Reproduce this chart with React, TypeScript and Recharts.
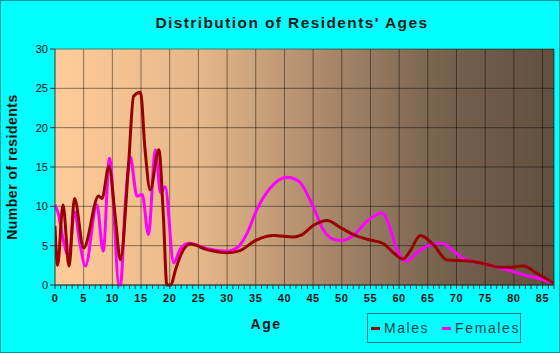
import { LineChart, Line, XAxis, YAxis, CartesianGrid, ReferenceLine } from "recharts"

const maleAges = [
  0, 0.45, 1.4, 2.45, 3.4, 5, 7.6, 8.2, 9.4, 10.5, 11.4, 12.8, 13.7, 14.9, 15.7, 16.6, 18.1, 18.9, 19.5, 20.2,
  21, 22.1, 23.6, 26.5, 30, 32, 35.2, 38.1, 41.6, 42.8, 45.1, 47.4, 50, 52.3, 54.8, 57.3, 59, 60.7, 61.9, 63.7,
  66, 68.3, 70.6, 72.9, 75.3, 77.6, 79.9, 81.7, 84, 87,
]
const maleCounts = [
  7.5, 2.5, 10.2, 2.4, 11, 4.7, 11.3, 11, 15.1, 8.7, 3.2, 15, 24, 24.5, 17.2, 12.1, 17.2, 8.7, 0, 0,
  1.9, 4.1, 5.2, 4.5, 4.1, 4.3, 5.75, 6.3, 6.1, 6.3, 7.6, 8.2, 7.2, 6.3, 5.75, 5.25, 4.1, 3.3, 4.3, 6.3,
  5.1, 3.2, 3.1, 3, 2.6, 2.25, 2.3, 2.4, 1.5, 0.2,
]

const femaleAges = [
  0, 0.6, 1.5, 2.4, 3.4, 4.3, 5.3, 7.3, 8.4, 9.5, 11.2, 11.4, 12.3, 13.1, 14.3, 15.2, 16.3, 17.5, 18.4, 19.2,
  20.7, 21.8, 23.3, 26.5, 30, 31.7, 33.5, 35.2, 37.5, 40.4, 42.5, 45.1, 46.8, 48.6, 50, 52, 54.4, 57, 58, 59.6,
  61.2, 63.1, 65.4, 67.4, 69.5, 71.2, 72.9, 75.3, 77.6, 79.9, 82.2, 84.6, 87,
]
const femaleCounts = [
  10.2, 9, 5.5, 3.6, 9.3, 5.5, 2.4, 10.2, 4.3, 16.1, 0, 0, 10.8, 16.3, 11.3, 11.5, 6.4, 17.2, 11.7, 12.5,
  2.8, 4.5, 5.3, 4.6, 4.3, 4.7, 6.6, 9.6, 12.3, 13.7, 13.2, 9.8, 7, 5.8, 5.65, 6.3, 8.1, 9.2, 8.1, 4.5,
  3, 4.1, 5.1, 5.3, 4.3, 3.4, 3, 2.6, 2.15, 1.7, 1.2, 0.8, 0.2,
]

const ageLabels = [0, 5, 10, 15, 20, 25, 30, 35, 40, 45, 50, 55, 60, 65, 70, 75, 80, 85]
const countTicks = [0, 5, 10, 15, 20, 25, 30]
const minorAgeTicks = Array.from({ length: 88 }, (_, i) => i)

const maleData = maleAges.map((age, i) => ({ age, value: maleCounts[i] }))
const femaleData = femaleAges.map((age, i) => ({ age, value: femaleCounts[i] }))

const font = "Arial, 'Liberation Sans', sans-serif"

function AgeTick(props: any) {
  const { x, y, payload } = props
  if (!ageLabels.includes(payload.value)) return null
  return (
    <text x={x} y={y + 11} textAnchor="middle" fontSize={11} fontWeight="bold" fill="#111" fontFamily={font} letterSpacing={0.6}>
      {payload.value}
    </text>
  )
}

export default function App() {
  return (
    <div style={{ position: "relative", width: 560, height: 353, background: "#00ffff", boxShadow: "inset 0 0 0 1px #009999", fontFamily: font }}>
      <style>{`body{margin:0}`}</style>
      <div style={{ position: "absolute", left: 0, top: 0 }}>
        <LineChart width={560} height={353} margin={{ top: 49, right: 6, left: 0, bottom: 38 }}>
          <defs>
            <linearGradient id="plotBg" x1="0" y1="0" x2="1" y2="0">
              <stop offset="0%" stopColor="#ffcc99" />
              <stop offset="30%" stopColor="#e4b688" />
              <stop offset="55%" stopColor="#a8876a" />
              <stop offset="78%" stopColor="#76614d" />
              <stop offset="100%" stopColor="#614f3f" />
            </linearGradient>
          </defs>
          <CartesianGrid vertical={false} fill="url(#plotBg)" fillOpacity={1} stroke="#000" strokeOpacity={0.45} />
          {ageLabels.slice(1).map((a) => (
            <ReferenceLine key={a} x={a} stroke="#000" strokeOpacity={0.45} />
          ))}
          <ReferenceLine x={87} stroke="#000" strokeOpacity={0.55} />
          <XAxis
            type="number"
            dataKey="age"
            domain={[0, 87]}
            allowDataOverflow
            ticks={minorAgeTicks}
            interval={0}
            tick={<AgeTick />}
            tickSize={4}
            tickLine={{ stroke: "#333" }}
            axisLine={{ stroke: "#333" }}
            height={30}
          />
          <YAxis
            type="number"
            domain={[0, 30]}
            ticks={countTicks}
            interval={0}
            width={55}
            tickSize={5}
            tickMargin={2}
            tick={{ fontSize: 11, fill: "#111", fontFamily: font }}
            tickLine={{ stroke: "#333" }}
            axisLine={{ stroke: "#333" }}
          />
          <Line data={femaleData} dataKey="value" type="monotone" stroke="#ff00ff" strokeWidth={3} dot={false} isAnimationActive={false} />
          <Line data={maleData} dataKey="value" type="monotone" stroke="#990000" strokeWidth={3} dot={false} isAnimationActive={false} />
        </LineChart>
      </div>
      <div style={{ position: "absolute", left: 0, width: 584, top: 14, textAlign: "center", fontSize: 15.5, fontWeight: "bold", letterSpacing: 1.4, color: "#1a1a1a" }}>
        Distribution of Residents' Ages
      </div>
      <div style={{ position: "absolute", left: 12, top: 167, transform: "translate(-50%, -50%) rotate(-90deg)", whiteSpace: "nowrap", fontSize: 14, fontWeight: "bold", letterSpacing: 0.5, color: "#111" }}>
        Number of residents
      </div>
      <div style={{ position: "absolute", left: 266, top: 324, transform: "translate(-50%, -50%)", fontSize: 14, fontWeight: "bold", letterSpacing: 1.5, color: "#111" }}>
        Age
      </div>
      <div style={{ position: "absolute", left: 367, top: 313, width: 154, height: 30, boxSizing: "border-box", border: "1px solid #008080", display: "flex", alignItems: "center", fontSize: 14, letterSpacing: 1.6, color: "#0a4545" }}>
        <span style={{ display: "inline-block", width: 13, height: 3, background: "#990000", marginLeft: 3, marginRight: 4 }} />
        <span>Males</span>
        <span style={{ display: "inline-block", width: 13, height: 3, background: "#ff00ff", marginLeft: 13, marginRight: 4 }} />
        <span>Females</span>
      </div>
    </div>
  )
}
